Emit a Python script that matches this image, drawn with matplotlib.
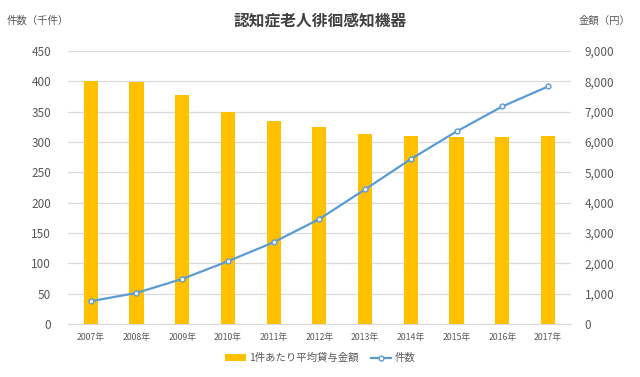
import matplotlib.pyplot as plt
import numpy as np

plt.rcParams['font.family'] = ['Noto Sans CJK JP', 'DejaVu Sans']

years = ['2007年', '2008年', '2009年', '2010年', '2011年', '2012年',
         '2013年', '2014年', '2015年', '2016年', '2017年']
avg_amount = [8000, 7980, 7540, 6990, 6680, 6480, 6250, 6195, 6160, 6170, 6195]
counts = [37.8, 51.5, 74.5, 103.6, 134.9, 173.2, 222.0, 271.9, 317.4, 358.5, 391.4]

bar_color = '#FFC000'
line_color = '#5B9BD5'
text_color = '#595959'
grid_color = '#D9D9D9'

fig = plt.figure(figsize=(6.4, 3.77), dpi=100)
ax = fig.add_axes([0.106, 0.140, 0.786, 0.725])
ax2 = ax.twinx()

x = np.arange(len(years))

# bars on the right axis (amount), line on the left axis (count)
ax2.bar(x, avg_amount, width=0.31, color=bar_color, label='1件あたり平均貸与金額', zorder=2)
ax.plot(x, counts, color=line_color, lw=1.6, marker='o', ms=3.5,
        mfc='white', mec=line_color, mew=1.0, label='件数', zorder=5)

ax.set_zorder(ax2.get_zorder() + 1)
ax.patch.set_visible(False)

ax.set_xlim(-0.5, len(years) - 0.5)
ax.set_ylim(0, 450)
ax2.set_ylim(0, 9000)
ax.set_yticks(np.arange(0, 451, 50))
ax2.set_yticks(np.arange(0, 9001, 1000))
ax2.set_yticklabels([f'{v:,}' for v in range(0, 9001, 1000)])
ax.set_xticks(x)
ax.set_xticklabels(years)

ax2.grid(axis='y', color=grid_color, lw=0.9, zorder=0)
ax2.set_axisbelow(True)

for a in (ax, ax2):
    for s in a.spines.values():
        s.set_visible(False)
    a.tick_params(length=0, colors=text_color, labelsize=8.5)
ax2.spines['bottom'].set_visible(True)
ax2.spines['bottom'].set_color(grid_color)
ax.tick_params(axis='x', labelsize=6.3, pad=6)
ax.tick_params(axis='y', pad=12)
ax2.tick_params(axis='y', pad=10)

fig.text(0.5, 0.945, '認知症老人徘徊感知機器', ha='center', va='center',
         fontsize=11.3, fontweight='bold', color='#404040')
fig.text(0.01, 0.945, '件数（千件）', ha='left', va='center', fontsize=7.5, color=text_color)
fig.text(0.985, 0.945, '金額（円）', ha='right', va='center', fontsize=7.5, color=text_color)

h1, l1 = ax2.get_legend_handles_labels()
h2, l2 = ax.get_legend_handles_labels()
fig.legend(h1 + h2, l1 + l2, loc='center', bbox_to_anchor=(0.5, 0.05), ncol=2,
           frameon=False, fontsize=7.5, labelcolor=text_color,
           handlelength=2.0, handleheight=0.6, columnspacing=1.2, handletextpad=0.3)

fig.savefig('out.png', dpi=100)
